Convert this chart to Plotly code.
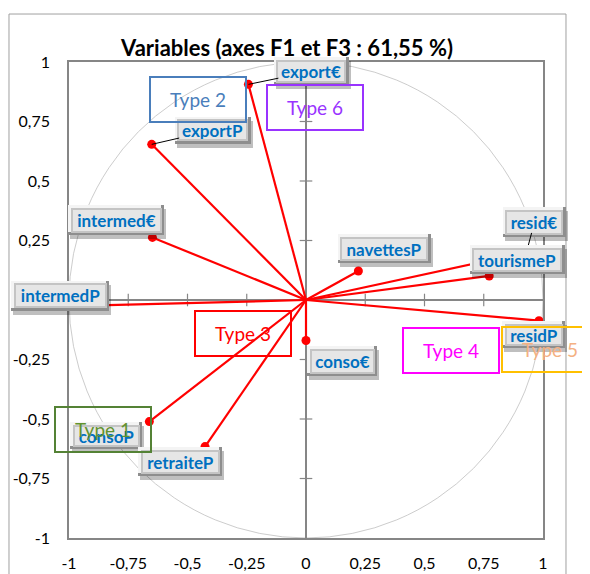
import plotly.graph_objects as go

# ---------------- data ----------------
variables = ["export€", "exportP", "intermed€", "intermedP", "navettesP",
             "resid€", "tourismeP", "residP", "conso€", "consoP", "retraiteP"]
f1 = [-0.243, -0.651, -0.648, -0.96, 0.221, 0.93, 0.773, 0.983, 0.0, -0.661, -0.426]
f3 = [0.906, 0.654, 0.263, -0.025, 0.122, 0.20, 0.101, -0.087, -0.17, -0.511, -0.616]

tick_vals = [-1, -0.75, -0.5, -0.25, 0, 0.25, 0.5, 0.75, 1]
tick_text = ["-1", "-0,75", "-0,5", "-0,25", "0", "0,25", "0,5", "0,75", "1"]

type_names = ["Type 1", "Type 2", "Type 3", "Type 4", "Type 5", "Type 6"]

title_text = "Variables (axes F1 et F3 : 61,55 %)"

# ---------------- styling / layout helpers ----------------
FONT = "Lato"
GRAY = "#868686"
BODY = 8  # default page body margin in the html page

# label offsets (pixels) and sizes, leader flag
label_style = {
    "export€":   dict(ax=63, ay=-13, w=75, h=28, leader=True),
    "exportP":   dict(ax=61, ay=-14, w=76, h=27, leader=True),
    "intermed€": dict(ax=-36, ay=-17, w=96, h=30, leader=False),
    "intermedP": dict(ax=-18, ay=-10, w=98, h=30, leader=False),
    "navettesP": dict(ax=26, ay=-22, w=93, h=29, leader=False),
    "resid€":    dict(ax=8, ay=-30, w=63, h=30, leader=True),
    "tourismeP": dict(ax=28, ay=-16, w=95, h=29, leader=False),
    "residP":    dict(ax=-5, ay=14, w=63, h=27, leader=False),
    "conso€":    dict(ax=36, ay=21, w=70, h=30, leader=False),
    "consoP":    dict(ax=-43, ay=14, w=72, h=27, leader=False),
    "retraiteP": dict(ax=-25, ay=15, w=84, h=29, leader=False),
}

# type text boxes: anchor (data coords inside range) + pixel shift
type_style = {
    "Type 1": dict(x=-0.856, y=-0.542, dx=0, line="#548235", text="#62922F"),
    "Type 2": dict(x=-0.454, y=0.842, dx=0, line="#4A7EBB", text="#4A7EBB"),
    "Type 3": dict(x=-0.264, y=-0.140, dx=0, line="#FF0000", text="#FF0000"),
    "Type 4": dict(x=0.610, y=-0.213, dx=0, line="#FF00FF", text="#FF00FF"),
    "Type 5": dict(x=1.0, y=-0.208, dx=6.5, line="#FFC000", text="#F4B183"),
    "Type 6": dict(x=0.039, y=0.807, dx=0, line="#9933FF", text="#9933FF"),
}

fig = go.Figure()

# unit circle
fig.add_shape(type="circle", xref="x", yref="y", x0=-1, y0=-1, x1=1, y1=1,
              line=dict(color="#BFBFBF", width=0.8), layer="below")

# cross tick marks on zero axes
inner_ticks = [t for t in tick_vals if t not in (0, -1, 1)]
fig.add_trace(go.Scatter(x=inner_ticks, y=[0] * len(inner_ticks), mode="markers",
                         marker=dict(symbol="line-ns", size=9,
                                     line=dict(color=GRAY, width=1.2)),
                         hoverinfo="skip", showlegend=False))
fig.add_trace(go.Scatter(x=[0] * len(inner_ticks), y=inner_ticks, mode="markers",
                         marker=dict(symbol="line-ew", size=9,
                                     line=dict(color=GRAY, width=1.2)),
                         hoverinfo="skip", showlegend=False))

# vectors
lx, ly = [], []
for a, b in zip(f1, f3):
    lx += [0, a, None]
    ly += [0, b, None]
fig.add_trace(go.Scatter(x=lx, y=ly, mode="lines",
                         line=dict(color="#FF0000", width=2.2),
                         hoverinfo="skip", showlegend=False))
fig.add_trace(go.Scatter(x=f1, y=f3, mode="markers", text=variables,
                         marker=dict(color="#FF0000", size=9),
                         showlegend=False))

# labels as bevelled buttons
for name, a, b in zip(variables, f1, f3):
    s = label_style[name]
    # shadow
    fig.add_annotation(x=a, y=b, xref="x", yref="y", text="", showarrow=False,
                       xshift=s["ax"] + 2, yshift=-s["ay"] - 4,
                       width=s["w"], height=s["h"], bgcolor="rgba(0,0,0,0.25)",
                       borderpad=0, borderwidth=0)
    # bevel outer (dark)
    fig.add_annotation(x=a, y=b, xref="x", yref="y", text="", showarrow=False,
                       xshift=s["ax"], yshift=-s["ay"],
                       width=s["w"], height=s["h"], bgcolor="#8E8E8E",
                       borderpad=0, borderwidth=0)
    # top-left highlight
    fig.add_annotation(x=a, y=b, xref="x", yref="y", text="", showarrow=False,
                       xshift=s["ax"] - 1.5, yshift=-s["ay"] + 1.5,
                       width=s["w"] - 3, height=s["h"] - 3, bgcolor="#F4F4F4",
                       borderpad=0, borderwidth=0)
    # mid bevel
    fig.add_annotation(x=a, y=b, xref="x", yref="y", text="", showarrow=False,
                       xshift=s["ax"], yshift=-s["ay"],
                       width=s["w"] - 5, height=s["h"] - 5, bgcolor="#C4C4C4",
                       borderpad=0, borderwidth=0)
    # face with text
    fig.add_annotation(x=a, y=b, xref="x", yref="y", text="<b>%s</b>" % name,
                       showarrow=True, ax=s["ax"], ay=s["ay"],
                       arrowhead=0, arrowwidth=1,
                       arrowcolor="#000000" if s["leader"] else "rgba(0,0,0,0)",
                       width=s["w"] - 9, height=s["h"] - 9, bgcolor="#E6E6E6",
                       borderpad=0, borderwidth=0,
                       font=dict(family=FONT, size=17, color="#0070C0"))

# type boxes
for t in type_names:
    s = type_style[t]
    fig.add_annotation(x=s["x"], y=s["y"], xref="x", yref="y", text=t,
                       xshift=s["dx"],
                       showarrow=False, width=94, height=43,
                       bordercolor=s["line"], borderwidth=2, borderpad=0,
                       bgcolor="rgba(0,0,0,0)",
                       font=dict(family=FONT, size=19, color=s["text"]))

# outer chart border
fig.add_shape(type="rect", xref="paper", yref="paper",
              x0=-0.1266, x1=1.0485, y0=-0.09, y1=1.1008,
              line=dict(color="#A0A0A0", width=1))

axis_common = dict(range=[-1, 1], tickvals=tick_vals, ticktext=tick_text,
                   showgrid=False, zeroline=True, zerolinecolor=GRAY,
                   zerolinewidth=1.5, showline=True, linecolor=GRAY,
                   linewidth=1.5, mirror=True, ticks="", automargin=False,
                   tickfont=dict(family=FONT, size=16, color="#000000"),
                   fixedrange=True)

fig.update_layout(
    width=590, height=574,
    margin=dict(l=69 - BODY, r=47 + BODY, t=62 - BODY, b=36 + BODY),
    paper_bgcolor="white", plot_bgcolor="white",
    title=dict(text="<b>%s</b>" % title_text, xref="paper", x=0.46,
               xanchor="center", yref="container", y=1 - (48 - BODY) / 574,
               yanchor="middle", automargin=False,
               font=dict(family=FONT, size=22, color="#000000")),
    xaxis=dict(**axis_common, ticklabelstandoff=10),
    yaxis=dict(**axis_common, ticklabelstandoff=14),
    showlegend=False,
)

fig.write_html("out.html")
